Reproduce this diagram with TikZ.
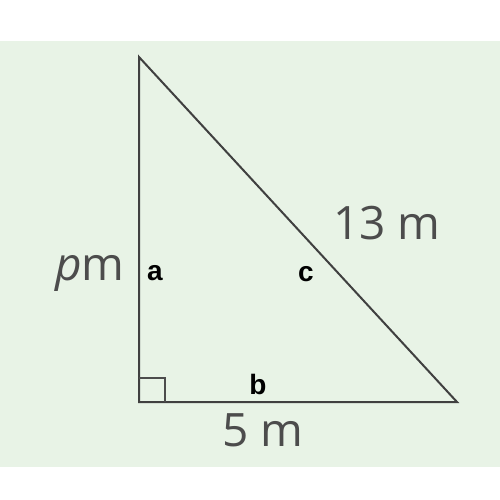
\documentclass[tikz,border=0pt]{standalone}
\usepackage{fontspec}
\usetikzlibrary{calc}
\setmainfont{Open Sans}
\newfontfamily\labfont{Liberation Sans}
\definecolor{bgreen}{RGB}{232,243,230}
\begin{document}
\begin{tikzpicture}[x=1pt,y=-1pt,
  edge/.style={draw=black!75, line width=2pt, line join=miter},
  meas/.style={text=black!70, font=\fontsize{46}{46}\selectfont, inner sep=0pt},
  lab/.style={text=black, font=\labfont\bfseries\fontsize{28}{28}\selectfont, inner sep=0pt}]
\useasboundingbox (0,0) rectangle (500,500);
\fill[white] (0,0) rectangle (500,500);
\fill[bgreen] (0,41) rectangle (500,467);
\coordinate (T) at (139,57);
\coordinate (R) at (139,402);
\coordinate (B) at (457,402);
\draw[edge] (T) -- (R) -- (B) -- cycle;
\draw[draw=black!70, line width=1.8pt] ($(R)+(0,-24)$) -- ++(26,0) -- ++(0,24);
\node[meas] (p) at (90,273) {\itshape p\upshape m};
\node[meas] (h) at (387,223) {13 m};
\node[meas] (f) at (263,430) {5 m};
\node[lab] (a) at (155,273) {a};
\node[lab] (b) at (258,384) {b};
\node[lab] (c) at (306,274) {c};
\end{tikzpicture}
\end{document}
